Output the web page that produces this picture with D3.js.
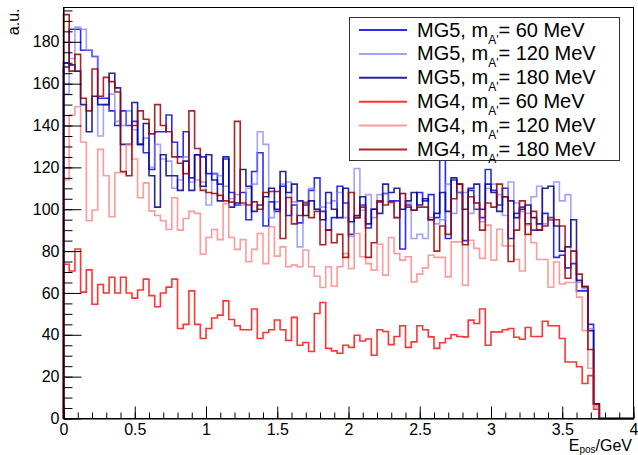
<!DOCTYPE html>
<html>
<head>
<meta charset="utf-8">
<script src="https://cdn.jsdelivr.net/npm/d3@7"></script>
<style>
  body { margin: 0; background: #fff; }
  text { font-family: "Liberation Sans", Arial, sans-serif; fill: #000; }
</style>
</head>
<body>
<div id="chart"></div>
<script>
// histogram binning: 100 bins of 0.04 GeV from 0 to 4
var xMin = 0, xMax = 4, nBins = 100;

// bin contents (a.u.), bins beyond the list are empty
var mg5_60 = [170,186,186,176,176,173,153,153,147,140, 147,140,142,131,127,119,137,137,145,132,
  125,137,115,126,125,117,117,112,124,108, 102,108,95,118,127,92,103.5,99,111,97,
  102,93.5,102,109,115,99,90,96,111,103, 88,96,102,91,100,103.5,107.5,104,104,81,
  102,99.5,108,104,107,96,130,86,114,108, 85,109,100,96,119,109,102,110,86,98,
  101,93,90,90,98,95,77,78,72,74, 61,61,45,7];
var mg5_120 = [155,172,187,186,176,173,135,150,155,142, 140,147,138,131,134,120,131,124,123,110,
  114,125,113,114,113,102,117,116,111,105, 107,102,110,112,137,131,96,103.5,112,113,
  103.5,82,103.5,110,100,101,103,104,108,96, 87,119.5,99.5,107,96,107,107.5,103,96,107.5,
  103,86,88,86,96,93,95,112,98,108, 108,98,103,94,110,112,107,97,113,103,
  99,98,106,111,93,95,113,104,107,80, 65,62,43,6];
var mg5_180 = [168,169,166,150,137,154,150,150,165,158, 131,131,151,131,141,116,101,126,116,116,
  109,123,109,126,111,126,114,104,125,101, 103,119,111,99,102,106,110,100,118,108,
  112,104,97,104,100,95,108,100,96,110, 94,97,106,93,100,98,112,108,110,100,
  104,108,102,105,95,98,108,99,115,112, 100,110,112,100,112,108,99,106,104,96,
  100,102,96,93,110,111,92,80,82,95, 66,63,42,7];
var mg4_60 = [73.7,70.5,81,60.4,71,54.6,64,60,67.5,60, 67.5,60,57.5,61.4,66.6,58.7,53.4,60,62.8,66.6,
  43,45,61,45,38.2,43,48,49.4,56.2,47.3, 44.3,42.4,42.4,52.3,38.2,41.1,42.4,47.1,42.4,37.3,
  48.3,35,36.3,32,50.2,55.4,33.5,32.3,31.2,35, 34,39.8,37,38,30.2,42.4,41.6,35.3,39.2,44.3,
  34,36.6,44.3,42.4,39,33.5,36.2,38.2,40,39.2, 39,47,45.4,52.3,35,41.4,41.4,42.4,43,38.8,
  37.9,43.5,39.2,39.2,46.5,44.3,44.3,38.2,27,27, 24.7,16.7,20.5,4.4];
var mg4_120 = [114,145,149,132,94.5,99.6,128.6,116,96.4,117.4, 117.4,131,124,105.5,112.6,99.2,97,94.5,90.3,105.5,
  90,95.6,99,98,78.5,86.5,90.3,85.5,102.7,86.5, 80.8,85.5,74.9,80.8,88.4,74,91.6,77.6,82,72.5,
  73.3,72.5,80.5,72.5,68,62.6,72.5,63.2,72.5,78.8, 71.7,88.4,77.3,74,70.9,83.3,68.5,86.5,78.8,75.7,
  77.3,65.3,69,72,78,77,77,67.7,84.4,84.4, 63.7,85.2,81.3,76.5,92.4,75.7,90.4,82.4,82.4,76,
  70.5,92.4,84,76,76,62.7,74.8,64.3,65,65, 58,42,24,5.5];
var mg4_180 = [193,166,174,153,147,167,154,163,161,156, 118,116,140,147,143,136,150,140,137,125,
  122,117,147,129,109,108,107.5,106.6,104,103.4, 142,103,102,103.5,100,108,108.5,108.5,86,105.6,
  93,97,103,96,99,83,90,84,88,77, 108,96,101,77,84,104,102,103.5,96,107.5,
  101,99.5,101,101,95,80,92,88,105,112, 83,106,103,90,103,101,112,106,75,90,
  104,88,99,90,92,96,95,92,67,80, 69,63,33,7];

var seriesNames = ["MG5", "MG5", "MG5", "MG4", "MG4", "MG4"];
var seriesMasses = ["60", "120", "180", "60", "120", "180"];
var seriesValues = [mg5_60, mg5_120, mg5_180, mg4_60, mg4_120, mg4_180];
var seriesColors = ["#0808f0", "#7a7aff", "#000088", "#ff1010", "#ff7878", "#9a0000"];
var seriesOpacity = [0.85, 0.7, 0.85, 0.85, 0.75, 0.85];

var xTicks = [0, 0.5, 1, 1.5, 2, 2.5, 3, 3.5, 4];
var yTicks = [0, 20, 40, 60, 80, 100, 120, 140, 160, 180];

var width = 638, height = 455;

var svg = d3.select("#chart").append("svg")
  .attr("width", width)
  .attr("height", height);

var x = d3.scaleLinear().domain([xMin, xMax]).range([63.5, 633.5]);
var y = d3.scaleLinear().domain([0, 196.4]).range([418.5, 7.5]);

// histogram outlines
var bw = (xMax - xMin) / nBins;
var line = d3.line()
  .x(function(d) { return x(d[0]); })
  .y(function(d) { return y(d[1]); });

function stepPoints(vals) {
  var pts = [[xMin, 0]];
  for (var i = 0; i < nBins; i++) {
    var v = vals[i] || 0;
    pts.push([xMin + i * bw, v], [xMin + (i + 1) * bw, v]);
  }
  pts.push([xMax, 0]);
  return pts;
}

svg.selectAll("path.hist").data(seriesValues)
  .enter().append("path")
    .attr("class", "hist")
    .attr("d", function(d) { return line(stepPoints(d)); })
    .attr("fill", "none")
    .attr("stroke", function(d, i) { return seriesColors[i]; })
    .attr("stroke-opacity", function(d, i) { return seriesOpacity[i]; })
    .attr("stroke-width", 1.6);

// frame
svg.append("rect")
  .attr("x", x(xMin)).attr("y", y(196.4))
  .attr("width", x(xMax) - x(xMin))
  .attr("height", y(0) - y(196.4))
  .attr("fill", "none")
  .attr("stroke", "#000")
  .attr("stroke-width", 1);

// x axis: ticks point up into the frame
var xMinor = d3.range(0, 41).map(function(i) { return i / 10; });
svg.append("g")
  .attr("transform", "translate(0," + y(0) + ")")
  .call(d3.axisBottom(x).tickValues(xMinor).tickSize(-6).tickFormat(""))
  .call(function(g) { g.select(".domain").remove(); });

svg.append("g")
  .attr("transform", "translate(0," + y(0) + ")")
  .call(d3.axisBottom(x).tickValues(xTicks).tickSizeInner(-12).tickSizeOuter(0).tickPadding(5)
    .tickFormat(d3.format("")))
  .call(function(g) {
    g.select(".domain").attr("stroke", "#000");
    g.selectAll("text").attr("font-size", 16).attr("font-family", "Liberation Sans, Arial, sans-serif");
  });

// y axis: ticks point right into the frame
var yMinor = d3.range(0, 40).map(function(i) { return i * 5; });
svg.append("g")
  .attr("transform", "translate(" + x(xMin) + ",0)")
  .call(d3.axisLeft(y).tickValues(yMinor).tickSize(-9).tickFormat(""))
  .call(function(g) { g.select(".domain").remove(); });

svg.append("g")
  .attr("transform", "translate(" + x(xMin) + ",0)")
  .call(d3.axisLeft(y).tickValues(yTicks).tickSizeInner(-18).tickSizeOuter(0).tickPadding(4))
  .call(function(g) {
    g.select(".domain").attr("stroke", "#000");
    g.selectAll("text").attr("font-size", 16).attr("font-family", "Liberation Sans, Arial, sans-serif");
  });

// axis titles
var xt = svg.append("text")
  .attr("x", 632).attr("y", 450.5)
  .attr("text-anchor", "end")
  .attr("font-size", 16);
xt.append("tspan").text("E");
xt.append("tspan").attr("dy", 2).attr("font-size", 10).text("pos");
xt.append("tspan").attr("dy", -2).text("/GeV");

svg.append("text")
  .attr("transform", "translate(18.5,8.5) rotate(-90)")
  .attr("text-anchor", "end")
  .attr("font-size", 16)
  .text("a.u.");

// legend
var legend = svg.append("g");
legend.append("rect")
  .attr("x", 349.5).attr("y", 17.5)
  .attr("width", 270).attr("height", 143)
  .attr("fill", "#fff")
  .attr("stroke", "#333")
  .attr("stroke-width", 1);

var rows = legend.selectAll("g.row").data(seriesValues)
  .enter().append("g")
    .attr("class", "row")
    .attr("transform", function(d, i) { return "translate(0," + (30 + i * 23.9) + ")"; });

rows.append("line")
  .attr("x1", 359).attr("x2", 407)
  .attr("y1", 0).attr("y2", 0)
  .attr("stroke", function(d, i) { return seriesColors[i]; })
  .attr("stroke-opacity", function(d, i) { return seriesOpacity[i]; })
  .attr("stroke-width", 2);

var lt = rows.append("text")
  .attr("x", 417).attr("y", 6.5)
  .attr("font-size", 20);
lt.append("tspan").text(function(d, i) { return seriesNames[i] + ", m"; });
lt.append("tspan").attr("dy", 7).attr("font-size", 12).text("A'");
lt.append("tspan").attr("dy", -7).text(function(d, i) { return "= " + seriesMasses[i] + " MeV"; });
</script>
</body>
</html>
